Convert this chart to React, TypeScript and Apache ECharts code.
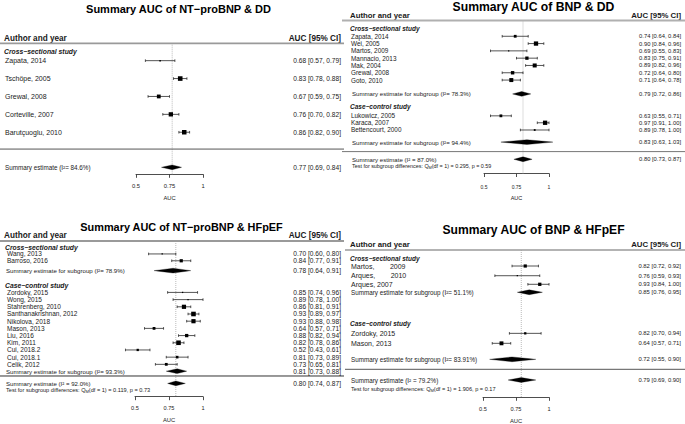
import React, { useEffect, useRef } from "react";
import * as echarts from "echarts";

const FONT = "'Liberation Sans', Arial, Helvetica, sans-serif";
const NB = "\u00a0";

// ===== Panel 1: NT-proBNP & DD =====
const ntDdTitle = "Summary AUC of NT−proBNP & DD";
const ntDdGroups = ["Cross−sectional study"];
const ntDdStudies = ["Zapata, 2014", "Tschöpe, 2005", "Grewal, 2008", "Corteville, 2007", "Barutçuoglu, 2010"];
const ntDdAuc = [0.68, 0.83, 0.67, 0.76, 0.86];
const ntDdLower = [0.57, 0.78, 0.59, 0.7, 0.82];
const ntDdUpper = [0.79, 0.88, 0.75, 0.82, 0.9];
const ntDdWeights = [1.5, 4.6, 3.8, 4.3, 4.5];
const ntDdSumLabels = ["Summary estimate (I²= 84.6%)"];
const ntDdSumAuc = [0.77];
const ntDdSumLower = [0.69];
const ntDdSumUpper = [0.84];

// ===== Panel 2: BNP & DD =====
const bnpDdTitle = "Summary AUC of BNP & DD";
const bnpDdGroups = ["Cross−sectional study", "Case−control study"];
const bnpDdStudies = ["Zapata, 2014", "Wei, 2005", "Martos, 2009", "Mannacio, 2013", "Mak, 2004", "Grewal, 2008", "Goto, 2010", "Lukowicz, 2005", "Karaca, 2007", "Bettencourt, 2000"];
const bnpDdAuc = [0.74, 0.9, 0.69, 0.83, 0.89, 0.72, 0.71, 0.63, 0.97, 0.89];
const bnpDdLower = [0.64, 0.84, 0.55, 0.75, 0.82, 0.64, 0.64, 0.55, 0.91, 0.78];
const bnpDdUpper = [0.84, 0.96, 0.83, 0.91, 0.96, 0.8, 0.78, 0.71, 1.0, 1.0];
const bnpDdWeights = [2.8, 4.3, 1.2, 3.3, 4.0, 3.4, 4.0, 2.8, 4.3, 1.8];
const bnpDdSumLabels = ["Summary estimate for subgroup (I²= 78.3%)", "Summary estimate for subgroup (I²= 94.4%)", "Summary estimate (I² = 87.0%)"];
const bnpDdSumAuc = [0.79, 0.83, 0.8];
const bnpDdSumLower = [0.72, 0.63, 0.73];
const bnpDdSumUpper = [0.86, 1.03, 0.87];
const bnpDdTestQ = 0.295;
const bnpDdTestP = 0.59;

// ===== Panel 3: NT-proBNP & HFpEF =====
const ntHfTitle = "Summary AUC of NT−proBNP & HFpEF";
const ntHfGroups = ["Cross−sectional study", "Case−control study"];
const ntHfStudies = ["Wang, 2013", "Barroso, 2016", "Zordoky, 2015", "Wong, 2015", "Stahrenberg, 2010", "Santhanakrishnan, 2012", "Nikolova, 2018", "Mason, 2013", "Liu, 2016", "Kim, 2011", "Cui, 2018.2", "Cui, 2018.1", "Celik, 2012"];
const ntHfAuc = [0.7, 0.84, 0.85, 0.89, 0.86, 0.93, 0.93, 0.64, 0.88, 0.82, 0.52, 0.81, 0.73];
const ntHfLower = [0.6, 0.77, 0.74, 0.78, 0.81, 0.89, 0.88, 0.57, 0.82, 0.78, 0.43, 0.73, 0.65];
const ntHfUpper = [0.8, 0.91, 0.96, 1.0, 0.91, 0.97, 0.98, 0.71, 0.94, 0.86, 0.61, 0.89, 0.81];
const ntHfWeights = [1.3, 3.2, 1.3, 1.3, 4.2, 4.6, 4.2, 2.8, 3.3, 4.6, 2.3, 2.6, 2.8];
const ntHfSumLabels = ["Summary estimate for subgroup (I²= 78.9%)", "Summary estimate for subgroup (I²= 93.3%)", "Summary estimate (I² = 92.0%)"];
const ntHfSumAuc = [0.78, 0.81, 0.8];
const ntHfSumLower = [0.64, 0.73, 0.74];
const ntHfSumUpper = [0.91, 0.88, 0.87];
const ntHfTestQ = 0.119;
const ntHfTestP = 0.73;

// ===== Panel 4: BNP & HFpEF =====
const bnpHfTitle = "Summary AUC of BNP & HFpEF";
const bnpHfGroups = ["Cross−sectional study", "Case−control study"];
const bnpHfStudies = ["Martos," + NB.repeat(8) + "2009", "Arques," + NB.repeat(8) + "2010", "Arques, 2007", "Zordoky, 2015", "Mason, 2013"];
const bnpHfAuc = [0.82, 0.76, 0.93, 0.82, 0.64];
const bnpHfLower = [0.72, 0.59, 0.84, 0.7, 0.57];
const bnpHfUpper = [0.92, 0.93, 1.0, 0.94, 0.71];
const bnpHfWeights = [3.2, 1.3, 3.3, 2.3, 3.9];
const bnpHfSumLabels = ["Summary estimate for subgroup (I²= 51.1%)", "Summary estimate for subgroup (I²= 83.91%)", "Summary estimate (I² = 79.2%)"];
const bnpHfSumAuc = [0.85, 0.72, 0.79];
const bnpHfSumLower = [0.76, 0.55, 0.69];
const bnpHfSumUpper = [0.95, 0.9, 0.9];
const bnpHfTestQ = 1.906;
const bnpHfTestP = 0.17;

// ---------- structures ----------
interface PanelData {
  title: string;
  groups: string[];
  studies: string[];
  auc: number[];
  lo: number[];
  hi: number[];
  w: number[];
  sumLabels: string[];
  sumAuc: number[];
  sumLo: number[];
  sumHi: number[];
  testQ?: number;
  testP?: number;
}

interface Layout {
  x0: number; x1: number; headL: number; groupL: number; studyL: number; sumL: number; textR: number;
  axisLeft: number; axisRight: number; top: number; bottom: number; yMin: number; yMax: number;
  headY: number; groupY: number[]; studyY: number[]; sumY: number[]; sepY: number; testY?: number;
  titleX: number; titleY: number;
  fTitle: number; fHead: number; fGroup: number; fName: number; fCi: number; fSum: number; fTest: number;
  fAxis: number; fAxisName: number; labelMargin: number; nameGap: number;
  headLine: { color: string; width: number }; sepLine: { color: string; width: number };
}

const panels: PanelData[] = [
  { title: ntDdTitle, groups: ntDdGroups, studies: ntDdStudies, auc: ntDdAuc, lo: ntDdLower, hi: ntDdUpper, w: ntDdWeights, sumLabels: ntDdSumLabels, sumAuc: ntDdSumAuc, sumLo: ntDdSumLower, sumHi: ntDdSumUpper },
  { title: bnpDdTitle, groups: bnpDdGroups, studies: bnpDdStudies, auc: bnpDdAuc, lo: bnpDdLower, hi: bnpDdUpper, w: bnpDdWeights, sumLabels: bnpDdSumLabels, sumAuc: bnpDdSumAuc, sumLo: bnpDdSumLower, sumHi: bnpDdSumUpper, testQ: bnpDdTestQ, testP: bnpDdTestP },
  { title: ntHfTitle, groups: ntHfGroups, studies: ntHfStudies, auc: ntHfAuc, lo: ntHfLower, hi: ntHfUpper, w: ntHfWeights, sumLabels: ntHfSumLabels, sumAuc: ntHfSumAuc, sumLo: ntHfSumLower, sumHi: ntHfSumUpper, testQ: ntHfTestQ, testP: ntHfTestP },
  { title: bnpHfTitle, groups: bnpHfGroups, studies: bnpHfStudies, auc: bnpHfAuc, lo: bnpHfLower, hi: bnpHfUpper, w: bnpHfWeights, sumLabels: bnpHfSumLabels, sumAuc: bnpHfSumAuc, sumLo: bnpHfSumLower, sumHi: bnpHfSumUpper, testQ: bnpHfTestQ, testP: bnpHfTestP },
];

const layouts: Layout[] = [
  {
    x0: 0, x1: 344, headL: 4, groupL: 4, studyL: 5, sumL: 5, textR: 341,
    axisLeft: 136, axisRight: 203, top: 43.3, bottom: 174.3, yMin: -0.97, yMax: 6.35,
    headY: -1.25, groupY: [-0.5], studyY: [0, 1, 2, 3, 4], sumY: [5.96], sepY: 4.94,
    titleX: 178.5, titleY: 8.5,
    fTitle: 11, fHead: 8.2, fGroup: 6.8, fName: 7, fCi: 6.6, fSum: 6.3, fTest: 5.6,
    fAxis: 5.8, fAxisName: 5.8, labelMargin: 9, nameGap: 21,
    headLine: { color: "#9a9a9a", width: 1.8 }, sepLine: { color: "#555", width: 1 },
  },
  {
    x0: 342, x1: 685, headL: 350, groupL: 350, studyL: 351, sumL: 352, textR: 681,
    axisLeft: 484, axisRight: 549, top: 20.5, bottom: 173.5, yMin: -2.16, yMax: 18.8,
    headY: -2.9, groupY: [-1, 9.64], studyY: [0, 1, 2, 3, 4, 5, 6, 10.9, 11.85, 12.84], sumY: [7.9, 14.5, 16.85], sepY: 15.8, testY: 17.8,
    titleX: 533.5, titleY: 6.5,
    fTitle: 12.2, fHead: 7.8, fGroup: 6.5, fName: 6.4, fCi: 5.8, fSum: 6.1, fTest: 5.4,
    fAxis: 5, fAxisName: 5.5, labelMargin: 11, nameGap: 21,
    headLine: { color: "#b0b0b0", width: 1.8 }, sepLine: { color: "#777", width: 1 },
  },
  {
    x0: 0, x1: 344, headL: 4, groupL: 5, studyL: 7, sumL: 6, textR: 341,
    axisLeft: 135, axisRight: 203, top: 241, bottom: 396.7, yMin: -1.8, yMax: 19.85,
    headY: -2.5, groupY: [-0.88, 4.45], studyY: [0, 0.95, 5.35, 6.35, 7.35, 8.35, 9.35, 10.35, 11.35, 12.35, 13.35, 14.35, 15.35], sumY: [2.32, 16.3, 18.0], sepY: 16.97, testY: 18.9,
    titleX: 181.5, titleY: 227,
    fTitle: 10.9, fHead: 8.2, fGroup: 6.8, fName: 6.5, fCi: 6.6, fSum: 6.1, fTest: 5.6,
    fAxis: 5.6, fAxisName: 5.8, labelMargin: 8, nameGap: 20,
    headLine: { color: "#9a9a9a", width: 1.8 }, sepLine: { color: "#333", width: 1 },
  },
  {
    x0: 345, x1: 685, headL: 350, groupL: 350, studyL: 351, sumL: 351, textR: 681,
    axisLeft: 483, axisRight: 549, top: 250, bottom: 397.3, yMin: -1.75, yMax: 14.35,
    headY: -2.3, groupY: [-0.87, 6.26], studyY: [0, 1.06, 2.0, 7.36, 8.45], sumY: [2.87, 10.2, 12.46], sepY: 11.29, testY: 13.44,
    titleX: 533.5, titleY: 230,
    fTitle: 12.1, fHead: 7.8, fGroup: 6.5, fName: 7, fCi: 5.9, fSum: 6.3, fTest: 5.6,
    fAxis: 5.6, fAxisName: 5.8, labelMargin: 9, nameGap: 21,
    headLine: { color: "#9a9a9a", width: 1.5 }, sepLine: { color: "#555", width: 1 },
  },
];

type Kind = "ref" | "head" | "topline" | "group" | "study" | "summary" | "sep" | "test";
type Row = { kind: Kind; idx: number; y: number };

const ci = (e: number, l: number, h: number) => `${e.toFixed(2)} [${l.toFixed(2)}, ${h.toFixed(2)}]`;

function buildRows(p: PanelData, L: Layout): Row[] {
  const rows: Row[] = [
    { kind: "ref", idx: 0, y: L.yMin },
    { kind: "head", idx: 0, y: L.headY },
    { kind: "topline", idx: 0, y: L.yMin },
  ];
  p.groups.forEach((_, i) => rows.push({ kind: "group", idx: i, y: L.groupY[i] }));
  p.studies.forEach((_, i) => rows.push({ kind: "study", idx: i, y: L.studyY[i] }));
  rows.push({ kind: "sep", idx: 0, y: L.sepY });
  p.sumLabels.forEach((_, i) => rows.push({ kind: "summary", idx: i, y: L.sumY[i] }));
  if (p.testQ !== undefined && L.testY !== undefined) rows.push({ kind: "test", idx: 0, y: L.testY });
  return rows;
}

function makeRender(p: PanelData, L: Layout, rows: Row[]) {
  const TXT = "#1a1a1a";
  const overall = p.sumAuc.length - 1;
  return (params: any, api: any) => {
    const r = rows[params.dataIndex];
    const yv = api.value(1);
    const y = api.coord([0.75, yv])[1];
    const X = (v: number) => api.coord([v, yv])[0];
    const text = (x: number, t: string, size: number, align: string, weight = "normal", fstyle = "normal") => ({
      type: "text",
      x,
      y,
      style: { text: t, fontSize: size, fontFamily: FONT, fontWeight: weight, fontStyle: fstyle, fill: TXT, align, verticalAlign: "middle" },
    });
    const ch: any[] = [];
    if (r.kind === "ref") {
      const x = X(p.sumAuc[overall]);
      const y2 = api.coord([0.75, L.yMax])[1];
      ch.push({ type: "line", shape: { x1: x, y1: y, x2: x, y2 }, style: { stroke: "#a8a8a8", lineWidth: 0.8, lineDash: [1, 1] } });
    } else if (r.kind === "head") {
      ch.push(text(L.headL, "Author and year", L.fHead, "left", "bold"));
      ch.push(text(L.textR, "AUC [95% CI]", L.fHead, "right", "bold"));
    } else if (r.kind === "topline") {
      ch.push({ type: "line", shape: { x1: L.x0, y1: y, x2: L.x1, y2: y }, style: { stroke: L.headLine.color, lineWidth: L.headLine.width } });
    } else if (r.kind === "sep") {
      ch.push({ type: "line", shape: { x1: L.x0, y1: y, x2: L.x1, y2: y }, style: { stroke: L.sepLine.color, lineWidth: L.sepLine.width } });
    } else if (r.kind === "group") {
      ch.push(text(L.groupL, p.groups[r.idx], L.fGroup, "left", "bold", "italic"));
    } else if (r.kind === "study") {
      const i = r.idx;
      const xl = X(p.lo[i]);
      const xh = X(p.hi[i]);
      const xe = X(p.auc[i]);
      const s = p.w[i];
      const cap = 1.3;
      const ls = { stroke: "#2a2a2a", lineWidth: 0.8 };
      ch.push({ type: "line", shape: { x1: xl, y1: y, x2: xh, y2: y }, style: ls });
      ch.push({ type: "line", shape: { x1: xl, y1: y - cap, x2: xl, y2: y + cap }, style: ls });
      ch.push({ type: "line", shape: { x1: xh, y1: y - cap, x2: xh, y2: y + cap }, style: ls });
      ch.push({ type: "rect", shape: { x: xe - s / 2, y: y - s / 2, width: s, height: s }, style: { fill: "#000" } });
      ch.push(text(L.studyL, p.studies[i], L.fName, "left"));
      ch.push(text(L.textR, ci(p.auc[i], p.lo[i], p.hi[i]), L.fCi, "right"));
    } else if (r.kind === "summary") {
      const i = r.idx;
      const h = 2.4;
      const xl = X(p.sumLo[i]);
      const xh = X(p.sumHi[i]);
      const xe = X(p.sumAuc[i]);
      ch.push({ type: "polygon", shape: { points: [[xl, y], [xe, y - h], [xh, y], [xe, y + h]] }, style: { fill: "#000", stroke: "#000", lineWidth: 0.3 } });
      ch.push(text(L.sumL, p.sumLabels[i], L.fSum, "left"));
      ch.push(text(L.textR, ci(p.sumAuc[i], p.sumLo[i], p.sumHi[i]), L.fCi, "right"));
    } else if (r.kind === "test") {
      const f = L.fTest;
      const base = { fontSize: f, fontFamily: FONT, fill: TXT, lineHeight: f * 1.15 };
      ch.push({
        type: "text",
        x: L.sumL,
        y,
        style: {
          text: `{n|Test for subgroup differences: Q}{s|M}{n|(df = 1) = ${(p.testQ as number).toFixed(3)}, p = ${(p.testP as number).toFixed(2)}}`,
          fontSize: f,
          fontFamily: FONT,
          fill: TXT,
          align: "left",
          verticalAlign: "middle",
          rich: {
            n: base,
            s: { fontSize: f * 0.72, fontFamily: FONT, fill: TXT, lineHeight: f * 0.72, verticalAlign: "bottom" },
          },
        },
      });
    }
    return { type: "group", children: ch };
  };
}

function buildOption() {
  const grid: any[] = [];
  const xAxis: any[] = [];
  const yAxis: any[] = [];
  const series: any[] = [];
  const graphic: any[] = [];
  panels.forEach((p, k) => {
    const L = layouts[k];
    grid.push({
      left: L.axisLeft,
      top: L.top,
      width: L.axisRight - L.axisLeft,
      height: L.bottom - L.top,
      containLabel: false,
      outerBoundsMode: "none",
    });
    xAxis.push({
      gridIndex: k,
      type: "value",
      min: 0.5,
      max: 1,
      interval: 0.25,
      position: "bottom",
      axisLine: { show: true, onZero: false, lineStyle: { color: "#3a3a3a", width: 0.9 } },
      axisTick: { show: true, length: 3.5, lineStyle: { color: "#3a3a3a", width: 0.9 } },
      splitLine: { show: false },
      axisLabel: {
        fontSize: L.fAxis,
        fontFamily: FONT,
        color: "#1a1a1a",
        margin: L.labelMargin,
        showMinLabel: true,
        showMaxLabel: true,
        formatter: (v: number) => String(v),
      },
      name: "AUC",
      nameLocation: "middle",
      nameGap: L.nameGap,
      nameTextStyle: { fontSize: L.fAxisName, fontFamily: FONT, color: "#1a1a1a" },
    });
    yAxis.push({ gridIndex: k, type: "value", min: L.yMin, max: L.yMax, inverse: true, show: false });
    const rows = buildRows(p, L);
    series.push({
      type: "custom",
      xAxisIndex: k,
      yAxisIndex: k,
      clip: false,
      silent: true,
      encode: { x: 0, y: 1 },
      data: rows.map((r) => [r.kind === "study" ? p.auc[r.idx] : 0.75, r.y]),
      renderItem: makeRender(p, L, rows),
    });
    graphic.push({
      type: "text",
      x: L.titleX,
      y: L.titleY,
      style: { text: p.title, fontSize: L.fTitle, fontWeight: "bold", fontFamily: FONT, fill: "#000", align: "center", verticalAlign: "middle" },
    });
  });
  return { animation: false, backgroundColor: "#fff", grid, xAxis, yAxis, series, graphic };
}

export default function App() {
  const ref = useRef<HTMLDivElement>(null);
  useEffect(() => {
    const chart = echarts.init(ref.current as HTMLDivElement, null, { renderer: "svg", width: 685, height: 424 });
    chart.setOption(buildOption() as any);
    return () => chart.dispose();
  }, []);
  return <div ref={ref} style={{ position: "fixed", left: 0, top: 0, width: 685, height: 424, background: "#fff" }} />;
}
